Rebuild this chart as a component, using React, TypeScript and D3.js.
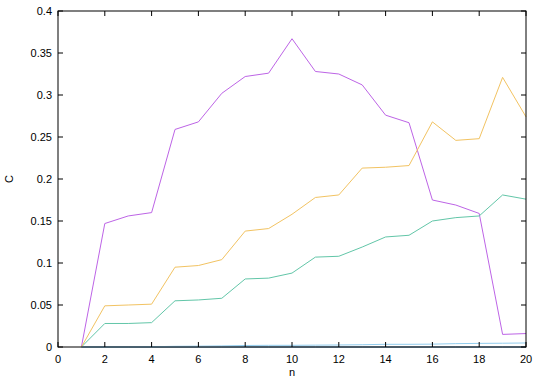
import { useEffect, useRef } from "react";
import * as d3 from "d3";

// n values (x)
const nValues = [1, 2, 3, 4, 5, 6, 7, 8, 9, 10, 11, 12, 13, 14, 15, 16, 17, 18, 19, 20];

// series
const purpleC = [0, 0.147, 0.156, 0.16, 0.259, 0.268, 0.302, 0.322, 0.326, 0.367, 0.328, 0.325, 0.312, 0.276, 0.267, 0.175, 0.169, 0.159, 0.015, 0.016];
const orangeC = [0, 0.049, 0.05, 0.051, 0.095, 0.097, 0.104, 0.138, 0.141, 0.158, 0.178, 0.181, 0.213, 0.214, 0.216, 0.268, 0.246, 0.248, 0.321, 0.274];
const greenC = [0, 0.028, 0.028, 0.029, 0.055, 0.056, 0.058, 0.081, 0.082, 0.088, 0.107, 0.108, 0.119, 0.131, 0.133, 0.15, 0.154, 0.156, 0.181, 0.176];
const lightBlueC = [0, 0, 0, 0.0003, 0.0008, 0.001, 0.0013, 0.0018, 0.002, 0.002, 0.0022, 0.0024, 0.0027, 0.0032, 0.0032, 0.0034, 0.004, 0.0043, 0.0045, 0.0048];
const darkC = [0, 0, 0, 0, 0, 0, 0, 0, 0, 0, 0, 0, 0, 0, 0, 0, 0, 0, 0, 0];

const xTicks = [0, 2, 4, 6, 8, 10, 12, 14, 16, 18, 20];
const yTicks = [0, 0.05, 0.1, 0.15, 0.2, 0.25, 0.3, 0.35, 0.4];

const series = [
  { values: darkC, color: "#2a6f9e" },
  { values: purpleC, color: "#bd64e6" },
  { values: greenC, color: "#62c6a8" },
  { values: lightBlueC, color: "#92cdee" },
  { values: orangeC, color: "#f2c362" },
];

export default function App() {
  const ref = useRef<SVGSVGElement>(null);

  useEffect(() => {
    document.body.style.margin = "0";
    const svg = d3.select(ref.current);
    svg.selectAll("*").remove();

    const width = 545, height = 382;
    const left = 58, right = 526, top = 11, bottom = 347;

    const x = d3.scaleLinear().domain([0, 20]).range([left, right]);
    const y = d3.scaleLinear().domain([0, 0.4]).range([bottom, top]);

    svg.attr("width", width).attr("height", height);
    svg.append("rect").attr("width", width).attr("height", height).attr("fill", "#fff");

    const font = "'Liberation Sans', Arial, sans-serif";

    // lines
    series.forEach(s => {
      const line = d3.line<number>()
        .x((_, i) => x(nValues[i]))
        .y(d => y(d));
      svg.append("path")
        .attr("d", line(s.values))
        .attr("fill", "none")
        .attr("stroke", s.color)
        .attr("stroke-width", 1);
    });

    // ticks (inward, mirrored)
    const tl = 5;
    xTicks.forEach(t => {
      svg.append("line").attr("x1", x(t)).attr("x2", x(t)).attr("y1", bottom).attr("y2", bottom - tl)
        .attr("stroke", "#000").attr("stroke-width", 1);
      svg.append("line").attr("x1", x(t)).attr("x2", x(t)).attr("y1", top).attr("y2", top + tl)
        .attr("stroke", "#000").attr("stroke-width", 1);
      svg.append("text")
        .attr("x", x(t)).attr("y", bottom + 16)
        .attr("text-anchor", "middle")
        .style("font-family", font).style("font-size", "11px")
        .text(t);
    });
    yTicks.forEach(t => {
      svg.append("line").attr("x1", left).attr("x2", left + tl).attr("y1", y(t)).attr("y2", y(t))
        .attr("stroke", "#000").attr("stroke-width", 1);
      svg.append("line").attr("x1", right).attr("x2", right - tl).attr("y1", y(t)).attr("y2", y(t))
        .attr("stroke", "#000").attr("stroke-width", 1);
      svg.append("text")
        .attr("x", left - 6).attr("y", y(t) + 4)
        .attr("text-anchor", "end")
        .style("font-family", font).style("font-size", "11px")
        .text(String(+t.toFixed(2)));
    });

    // border
    svg.append("rect")
      .attr("x", left).attr("y", top)
      .attr("width", right - left).attr("height", bottom - top)
      .attr("fill", "none").attr("stroke", "#000").attr("stroke-width", 1);

    // axis labels
    svg.append("text")
      .attr("x", (left + right) / 2).attr("y", 376)
      .attr("text-anchor", "middle")
      .style("font-family", font).style("font-size", "11px")
      .text("n");
    svg.append("text")
      .attr("transform", `translate(13, ${(top + bottom) / 2}) rotate(-90)`)
      .attr("text-anchor", "middle")
      .style("font-family", font).style("font-size", "11px")
      .text("C");
  }, []);

  return <svg ref={ref} />;
}
